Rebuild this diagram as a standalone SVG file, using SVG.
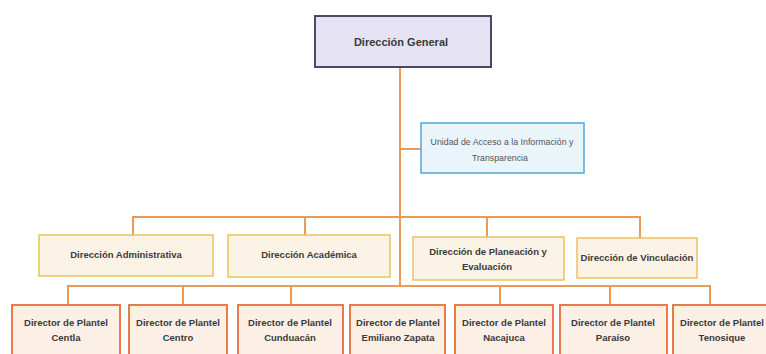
<svg xmlns="http://www.w3.org/2000/svg" width="766" height="354" viewBox="0 0 766 354">
<style>
text{font-family:"Liberation Sans",Arial,sans-serif;text-anchor:middle;fill:#3a3a3a}
.t{font-size:9.5px;font-weight:bold}
.g{font-size:11px;font-weight:bold}
.u{font-size:8.8px;fill:#555}
.con{stroke:#ec9a55;stroke-width:2;fill:none}
.l1{fill:#e5e3f3;stroke:#4b4a66;stroke-width:2}
.lu{fill:#eaf4fb;stroke:#4fa6da;stroke-width:1.5}
.l2{fill:#fbf3e6;stroke:#e9c35e;stroke-width:1.5}
.l3{fill:#fbefe6;stroke:#ea7a4c;stroke-width:2}
</style>
<rect width="766" height="354" fill="#ffffff"/>
<g id="connectors">
<line class="con" x1="400" y1="68" x2="400" y2="287"/>
<line class="con" x1="400" y1="149" x2="421" y2="149"/>
<polyline class="con" points="133,235 133,217 640,217 640,238"/>
<line class="con" x1="305" y1="217" x2="305" y2="235"/>
<line class="con" x1="487" y1="217" x2="487" y2="237"/>
<polyline class="con" points="68,305 68,286 710,286 710,305"/>
<line class="con" x1="183" y1="286" x2="183" y2="305"/>
<line class="con" x1="291" y1="286" x2="291" y2="305"/>
<line class="con" x1="500" y1="286" x2="500" y2="305"/>
<line class="con" x1="610" y1="286" x2="610" y2="305"/>
</g>
<g id="n-general"><rect class="l1" x="315" y="16" width="176" height="51"/><text class="g" x="401" y="46">Dirección General</text></g>
<g id="n-unidad"><rect class="lu" x="421" y="123" width="163" height="50"/><text class="u" x="502" y="145">Unidad de Acceso a la Información y</text><text class="u" x="500" y="161">Transparencia</text></g>
<g id="n-admin"><rect class="l2" x="39" y="235" width="174" height="41"/><text class="t" x="126" y="258">Dirección Administrativa</text></g>
<g id="n-acad"><rect class="l2" x="228" y="235" width="162" height="42"/><text class="t" x="309" y="258">Dirección Académica</text></g>
<g id="n-plan"><rect class="l2" x="413" y="237" width="151" height="43"/><text class="t" x="488" y="255">Dirección de Planeación y</text><text class="t" x="487" y="270">Evaluación</text></g>
<g id="n-vinc"><rect class="l2" x="577" y="238" width="120" height="40"/><text class="t" x="637" y="261">Dirección de Vinculación</text></g>
<g id="n-centla"><rect class="l3" x="12" y="305" width="108" height="55"/><text class="t" x="66" y="326">Director de Plantel</text><text class="t" x="66" y="341">Centla</text></g>
<g id="n-centro"><rect class="l3" x="129" y="305" width="98" height="55"/><text class="t" x="178" y="326">Director de Plantel</text><text class="t" x="178" y="341">Centro</text></g>
<g id="n-cund"><rect class="l3" x="238" y="305" width="105" height="55"/><text class="t" x="290" y="326">Director de Plantel</text><text class="t" x="290" y="341">Cunduacán</text></g>
<g id="n-zapata"><rect class="l3" x="350" y="305" width="95" height="55"/><text class="t" x="398" y="326">Director de Plantel</text><text class="t" x="398" y="341">Emiliano Zapata</text></g>
<g id="n-nacajuca"><rect class="l3" x="455" y="305" width="98" height="55"/><text class="t" x="504" y="326">Director de Plantel</text><text class="t" x="504" y="341">Nacajuca</text></g>
<g id="n-paraiso"><rect class="l3" x="560" y="305" width="107" height="55"/><text class="t" x="613" y="326">Director de Plantel</text><text class="t" x="613" y="341">Paraíso</text></g>
<g id="n-tenosique"><rect class="l3" x="673" y="305" width="100" height="55"/><text class="t" x="722" y="326">Director de Plantel</text><text class="t" x="722" y="341">Tenosique</text></g>
</svg>
